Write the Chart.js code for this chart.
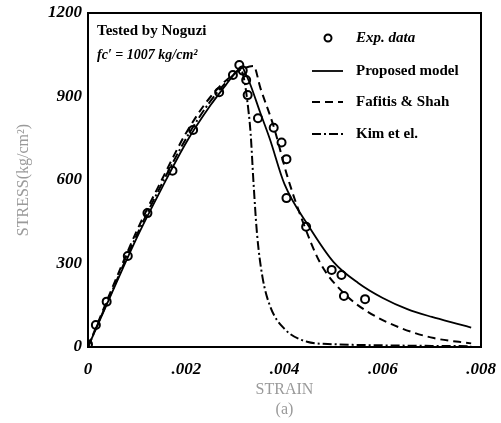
<!DOCTYPE html>
<html>
<head>
<meta charset="utf-8">
<script src="https://cdn.jsdelivr.net/npm/chart.js@4/dist/chart.umd.min.js"></script>
<style>
  html, body { margin: 0; padding: 0; background: #fff; }
  #wrap { width: 501px; height: 423px; }
</style>
</head>
<body>
<div id="wrap"><canvas id="stressChart" width="501" height="423"></canvas></div>
<script>
// tick labels
const xTicks = [0, 0.002, 0.004, 0.006, 0.008];
const yTicks = [0, 300, 600, 900, 1200];

// experimental data (Noguzi)
const expStrain = [0, 0.00016, 0.00038, 0.00081, 0.00121, 0.00172, 0.00214, 0.00267, 0.00295,
    0.00308, 0.00315, 0.00322, 0.00325, 0.00346, 0.00378, 0.00394, 0.00404, 0.00404,
    0.00444, 0.00496, 0.00516, 0.00521, 0.00564];
const expStress = [10, 79, 163, 327, 481, 633, 780, 915, 977,
    1013, 993, 959, 905, 822, 788, 735, 675, 535,
    432, 277, 259, 183, 172];

// proposed model
const propStrain = [0, 0.0005, 0.001, 0.0015, 0.002, 0.0025, 0.0028, 0.003, 0.00313,
    0.0032, 0.0033, 0.0035, 0.0037, 0.004, 0.0045, 0.005, 0.0055, 0.006, 0.0065, 0.007, 0.0075, 0.0078];
const propStress = [0, 200, 395, 570, 735, 870, 940, 985, 1007,
    985, 945, 845, 748, 585, 432, 305, 230, 176, 136, 108, 84, 70];

// Fafitis & Shah
const fsStrain = [0, 0.0005, 0.001, 0.0015, 0.002, 0.0025, 0.003, 0.0032, 0.00337,
    0.00351, 0.00378, 0.00406, 0.00436, 0.00473, 0.00521, 0.00569, 0.00637, 0.00704, 0.0078];
const fsStress = [0, 215, 420, 600, 770, 900, 985, 1003, 1010,
    930, 792, 612, 456, 301, 193, 127, 68, 32, 13];

// Kim et al.
const kimStrain = [0, 0.0005, 0.001, 0.0015, 0.002, 0.0025, 0.003, 0.0031,
    0.00318, 0.00324, 0.00331, 0.00337, 0.00344, 0.00355, 0.00371, 0.00399, 0.00446, 0.005, 0.006, 0.007, 0.0078];
const kimStress = [0, 205, 405, 585, 750, 885, 985, 1000,
    960, 888, 768, 588, 408, 253, 145, 67, 19, 10, 6, 4, 3];

function pts(xs, ys) {
    return xs.map((x, i) => ({ x: x, y: ys[i] }));
}

const serif = '"Liberation Serif", "DejaVu Serif", serif';

const overlay = {
    id: 'overlay',
    afterDraw(chart) {
        const ctx = chart.ctx;
        const a = chart.chartArea;
        ctx.save();
        // frame
        ctx.strokeStyle = '#000';
        ctx.lineWidth = 2;
        ctx.strokeRect(a.left, a.top, a.right - a.left, a.bottom - a.top);

        // note at top left
        ctx.fillStyle = '#000';
        ctx.textBaseline = 'middle';
        ctx.textAlign = 'left';
        ctx.font = 'bold 15px ' + serif;
        ctx.fillText('Tested by Noguzi', 97, 31);
        ctx.font = 'italic bold 14px ' + serif;
        ctx.fillText("fc\u2032 = 1007 kg/cm\u00b2", 97, 55);

        // legend
        const ds = chart.data.datasets;
        const rows = [38, 71, 102, 134];
        ds.forEach((d, i) => {
            const y = rows[i];
            ctx.strokeStyle = '#000';
            if (d.showLine) {
                ctx.lineWidth = d.borderWidth;
                ctx.setLineDash(d.borderDash || []);
                ctx.beginPath();
                ctx.moveTo(312, y);
                ctx.lineTo(343, y);
                ctx.stroke();
                ctx.setLineDash([]);
            } else {
                ctx.lineWidth = 2;
                ctx.beginPath();
                ctx.arc(328, y, 3.5, 0, Math.PI * 2);
                ctx.stroke();
            }
            ctx.font = (i === 0 ? 'italic bold 15px ' : 'bold 15px ') + serif;
            ctx.fillText(d.label, 356, y);
        });
        ctx.restore();
    }
};

new Chart(document.getElementById('stressChart').getContext('2d'), {
    type: 'scatter',
    data: {
        datasets: [{
            label: 'Exp. data',
            data: pts(expStrain, expStress),
            showLine: false,
            pointRadius: 4,
            pointBorderWidth: 2,
            pointBorderColor: '#000',
            pointBackgroundColor: 'rgba(255,255,255,0)',
            order: 0
        }, {
            label: 'Proposed model',
            data: pts(propStrain, propStress),
            showLine: true,
            borderColor: '#000',
            borderWidth: 1.8,
            pointRadius: 0,
            cubicInterpolationMode: 'monotone',
            order: 1
        }, {
            label: 'Fafitis & Shah',
            data: pts(fsStrain, fsStress),
            showLine: true,
            borderColor: '#000',
            borderWidth: 2,
            borderDash: [8, 5],
            pointRadius: 0,
            cubicInterpolationMode: 'monotone',
            order: 2
        }, {
            label: 'Kim et el.',
            data: pts(kimStrain, kimStress),
            showLine: true,
            borderColor: '#000',
            borderWidth: 2,
            borderDash: [9, 3, 2, 3],
            pointRadius: 0,
            cubicInterpolationMode: 'monotone',
            order: 3
        }]
    },
    options: {
        responsive: false,
        animation: false,
        layout: { padding: { top: 13, right: 20, left: 10, bottom: 0 } },
        plugins: {
            legend: { display: false },
            tooltip: { enabled: false }
        },
        scales: {
            x: {
                type: 'linear',
                min: 0,
                max: 0.008,
                afterBuildTicks: (s) => { s.ticks = xTicks.map(v => ({ value: v })); },
                afterFit: (s) => { s.height = 76; s.paddingLeft = 0; s.paddingRight = 0; },
                grid: { display: false, drawTicks: false },
                border: { display: false },
                ticks: {
                    padding: 12,
                    color: '#000',
                    font: { family: serif, size: 17, style: 'italic', weight: 'bold' },
                    callback: (v) => v === 0 ? '0' : v.toFixed(3).replace(/^0/, '')
                },
                title: {
                    display: true,
                    text: ['STRAIN', '(a)'],
                    color: '#9a9a9a',
                    font: { family: serif, size: 16 },
                    padding: { top: 4 }
                }
            },
            y: {
                min: 0,
                max: 1200,
                afterBuildTicks: (s) => { s.ticks = yTicks.map(v => ({ value: v })); },
                afterFit: (s) => { s.width = 78; s.paddingTop = 0; s.paddingBottom = 0; },
                grid: { display: false, drawTicks: false },
                border: { display: false },
                ticks: {
                    padding: 6,
                    color: '#000',
                    font: { family: serif, size: 17, style: 'italic', weight: 'bold' },
                    callback: (v) => String(v)
                },
                title: {
                    display: true,
                    text: 'STRESS(kg/cm\u00b2)',
                    color: '#9a9a9a',
                    font: { family: serif, size: 16 },
                    padding: { bottom: 6 }
                }
            }
        }
    },
    plugins: [overlay]
});
</script>
</body>
</html>
